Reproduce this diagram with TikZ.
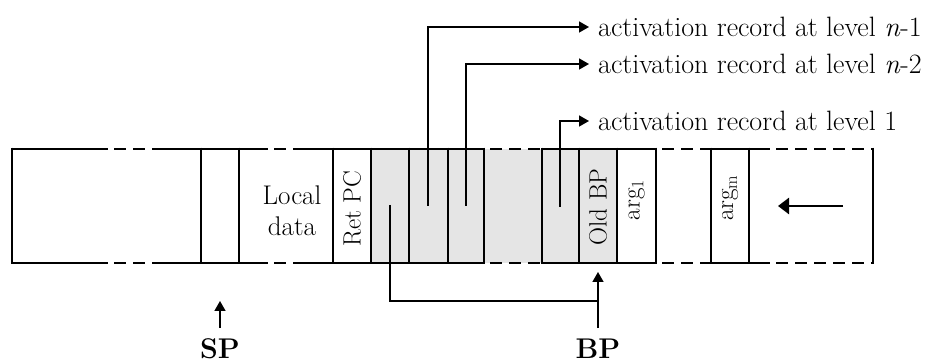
\documentclass[tikz,border=0pt]{standalone}
\usepackage{fontspec}
\usetikzlibrary{arrows.meta}
\begin{document}
\begin{tikzpicture}[x=1pt,y=-1pt,
  edge/.style={line width=2.8pt},
  dashedge/.style={line width=2.8pt, dash pattern=on 12pt off 7pt, dash phase=-6pt},
  conn/.style={line width=1.6pt, -{Triangle[length=10pt,width=11pt]}},
  plainconn/.style={line width=1.6pt},
  bigarrow/.style={line width=2.6pt, -{Triangle[length=11pt,width=16pt]}},
  label/.style={anchor=west, inner xsep=9pt, inner ysep=0pt, font=\fontsize{28}{32}\selectfont},
  celltext/.style={align=center, inner sep=0pt, font=\fontsize{27}{31}\selectfont},
  rottext/.style={rotate=90, inner sep=0pt, font=\fontsize{25}{29}\selectfont},
  regtext/.style={anchor=base, inner sep=0pt, font=\fontsize{28.5}{32}\selectfont\bfseries}
]
\useasboundingbox (0,0) rectangle (935,363);
% shaded area
\fill[gray!20] (371,149) rectangle (617,263);
% horizontal edges
\foreach \y in {149,263}{
  \draw[edge] (12,\y) -- (108,\y);
  \draw[dashedge] (108,\y) -- (163,\y);
  \draw[edge] (163,\y) -- (268,\y);
  \draw[dashedge] (268,\y) -- (305,\y);
  \draw[edge] (305,\y) -- (484,\y);
  \draw[dashedge] (484,\y) -- (542,\y);
  \draw[edge] (542,\y) -- (656,\y);
  \draw[dashedge] (656,\y) -- (711,\y);
  \draw[edge] (711,\y) -- (770,\y);
  \draw[dashedge] (770,\y) -- (873,\y);
}
% vertical cell lines
\foreach \x in {12,201,239,333,371,409,448,484,542,579,617,656,711,749,873}{
  \draw[edge] (\x,147.6) -- (\x,264.4);
}
% cell texts
\node[celltext] (local) at (292,211) {Local\\data};
\node[rottext] (retpc) at (352,209) {Ret PC};
\node[rottext] (oldbp) at (598,207) {Old BP};
\node[rottext] (arga) at (636.5,200) {arg\textsubscript{1}};
\node[rottext] (argm) at (730,198) {arg\textsubscript{m}};
% labels
\node[label] (lab1) at (589,27) {activation record at level \textit{n}-1};
\node[label] (lab2) at (589,64) {activation record at level \textit{n}-2};
\node[label] (lab3) at (589,121) {activation record at level 1};
\node[regtext] (sp) at (220,359) {SP};
\node[regtext] (bp) at (598,359) {BP};
% connector points
\coordinate (p1) at (428,206);
\coordinate (p2) at (466,206);
\coordinate (p3) at (560,207);
\coordinate (p4) at (390,205);
\coordinate (bpj) at (598,301);
\coordinate (bptip) at (598,272);
\coordinate (sptip) at (220,301);
\coordinate (rstart) at (843,206);
\coordinate (rend) at (778,206);
% connectors
\draw[conn] (p1) |- (lab1.west);
\draw[conn] (p2) |- (lab2.west);
\draw[conn] (p3) |- (lab3.west);
\draw[plainconn] (p4) |- (bpj);
\draw[conn] ([yshift=11pt]bp.north) -- (bptip);
\draw[conn] ([yshift=11pt]sp.north) -- (sptip);
\draw[bigarrow] (rstart) -- (rend);
\end{tikzpicture}
\end{document}
